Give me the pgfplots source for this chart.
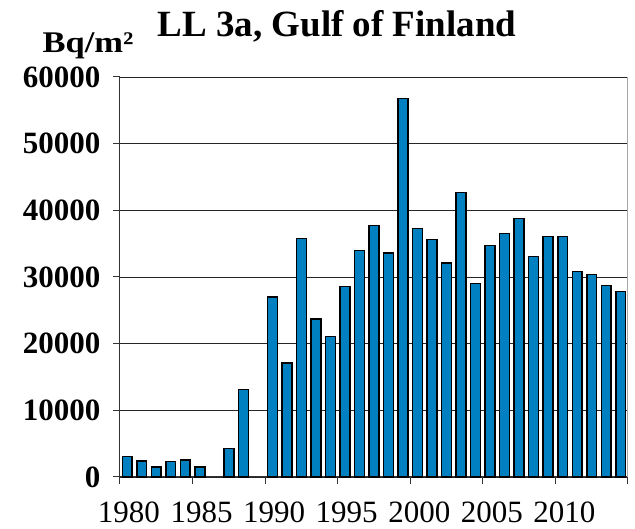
\documentclass[border=0pt]{standalone}
\usepackage{fontspec}
\setmainfont{Liberation Serif}
\usepackage{graphicx}
\usepackage{pgfplots}
\pgfplotsset{compat=1.18}
\definecolor{barblue}{RGB}{0,128,192}
\begin{document}
\begin{tikzpicture}
\path[use as bounding box] (-120pt,-52pt) rectangle (515pt,477pt);
\begin{axis}[
  at={(0pt,0pt)}, anchor=south west,
  scale only axis, width=508pt, height=400pt,
  xmin=1980, xmax=2015, ymin=0, ymax=60000,
  axis x line*=bottom, axis y line*=left,
  axis line style={black!80, line width=1pt},
  xtick={1980,1985,...,2010}, xticklabels={1980,1985,1990,1995,2000,2005,2010},
  extra x ticks={2015}, extra x tick labels={},
  extra x tick style={grid=major, major grid style={gray!70, line width=1pt}},
  ytick={0,10000,...,60000}, scaled y ticks=false,
  yticklabels={0,10000,20000,30000,40000,50000,60000},
  tick align=outside, major tick length=7pt,
  tick style={black!80, line width=1pt},
  ymajorgrids, major grid style={black!85, line width=0.9pt},
  xticklabel style={font=\fontsize{31}{36}\selectfont, yshift=-14pt, xshift=9pt},
  yticklabel style={font=\fontsize{31}{36}\selectfont\bfseries, xshift=-9pt},
  clip=false,
]
\addplot[ybar, bar width=0.68, fill=barblue, draw=black, line width=1.5pt] coordinates {
(1980.5,3100) (1981.5,2400) (1982.5,1500) (1983.5,2300) (1984.5,2550) (1985.5,1500)
(1987.5,4300) (1988.5,13100)
(1990.5,27000) (1991.5,17100) (1992.5,35800) (1993.5,23700) (1994.5,21100)
(1995.5,28600) (1996.5,34000) (1997.5,37700) (1998.5,33600) (1999.5,56800)
(2000.5,37300) (2001.5,35600) (2002.5,32100) (2003.5,42700) (2004.5,29000)
(2005.5,34700) (2006.5,36500) (2007.5,38800) (2008.5,33100) (2009.5,36100)
(2010.5,36100) (2011.5,30800) (2012.5,30400) (2013.5,28700) (2014.5,27800)
};
\end{axis}
\node[font=\fontsize{37}{42}\selectfont\bfseries] at (217pt,451pt) {LL 3a, Gulf of Finland};
\node[font=\fontsize{30}{34}\selectfont\bfseries] at (-32pt,431pt) {\scalebox{1.15}[1]{Bq/m²}};
\end{tikzpicture}
\end{document}
